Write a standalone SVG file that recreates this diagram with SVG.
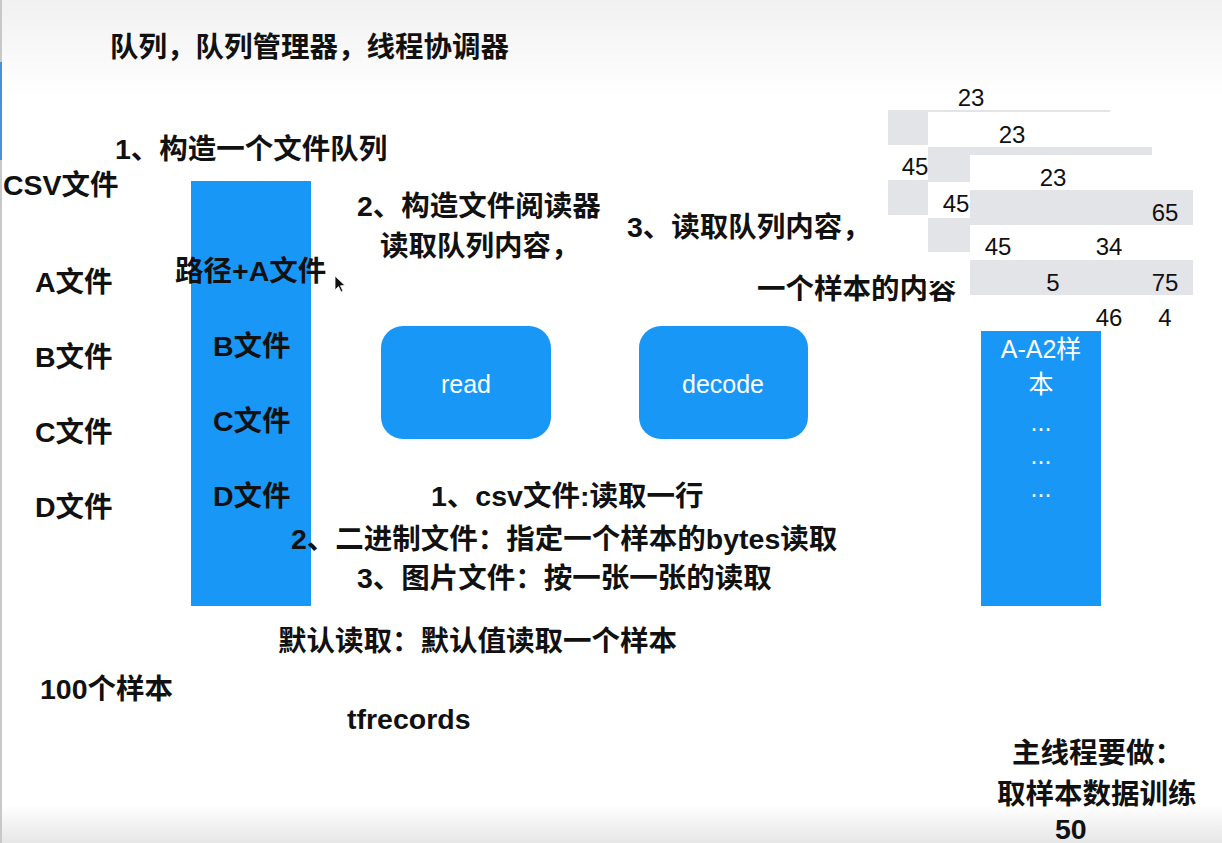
<svg xmlns="http://www.w3.org/2000/svg" width="1222" height="843" viewBox="0 0 1222 843">
  <defs>
    <linearGradient id="topShade" x1="0" y1="0" x2="0" y2="1">
      <stop offset="0" stop-color="#f1f1f1"/>
      <stop offset="1" stop-color="#ffffff"/>
    </linearGradient>
    <linearGradient id="bottomShade" x1="0" y1="0" x2="0" y2="1">
      <stop offset="0" stop-color="#ffffff"/>
      <stop offset="1" stop-color="#e6e6e6"/>
    </linearGradient>
    <style>
      .t { font-family: "Liberation Sans", "Noto Sans CJK SC", sans-serif; font-weight: bold; font-size: 28.5px; fill: #111; }
      .num { font-family: "Liberation Sans", "Noto Sans CJK SC", sans-serif; font-size: 24px; fill: #111; text-anchor: middle; }
      .w { font-family: "Liberation Sans", "Noto Sans CJK SC", sans-serif; font-size: 25px; fill: #fff; text-anchor: middle; }
      .blue { fill: #1897f7; }
      .gray { fill: #e3e4e7; }
    </style>
  </defs>

  <!-- page background -->
  <rect x="0" y="0" width="1222" height="843" fill="#ffffff"/>
  <rect x="0" y="0" width="1222" height="100" fill="url(#topShade)"/>
  <rect x="0" y="805" width="1222" height="38" fill="url(#bottomShade)"/>
  <rect x="0" y="0" width="2" height="843" fill="#c8c8c8"/>
  <rect x="0" y="62" width="2" height="98" fill="#4a8fd8"/>

  <!-- title -->
  <text class="t" x="110" y="57">队列，队列管理器，线程协调器</text>

  <!-- step 1: file queue -->
  <g id="step1">
    <text class="t" x="115" y="159">1、构造一个文件队列</text>
  </g>

  <g id="source-files">
    <text class="t" x="3" y="195">CSV文件</text>
    <text class="t" x="35" y="292">A文件</text>
    <text class="t" x="35" y="367">B文件</text>
    <text class="t" x="35" y="442">C文件</text>
    <text class="t" x="35" y="517">D文件</text>
    <text class="t" x="40" y="699">100个样本</text>
  </g>

  <g id="file-queue">
    <rect class="blue" x="191" y="181" width="120" height="425"/>
    <text class="t" x="175" y="281">路径+A文件</text>
    <text class="t" x="213" y="356">B文件</text>
    <text class="t" x="213" y="431">C文件</text>
    <text class="t" x="213" y="506">D文件</text>
  </g>

  <!-- pointer -->
  <path d="M335,276 L335,290 L338.5,286.5 L341,292 L343,291 L340.5,285.8 L345,285.5 Z" fill="#111" stroke="#fff" stroke-width="0.8"/>

  <!-- step 2: reader -->
  <g id="step2">
    <text class="t" x="357" y="216">2、构造文件阅读器</text>
    <text class="t" x="380" y="256">读取队列内容，</text>
  </g>

  <g id="read">
    <rect class="blue" x="381" y="326" width="170" height="113" rx="22"/>
    <text class="w" x="466" y="393">read</text>
  </g>

  <g id="decode">
    <rect class="blue" x="639" y="326" width="169" height="113" rx="22"/>
    <text class="w" x="723" y="393">decode</text>
  </g>

  <g id="reader-notes">
    <text class="t" x="431" y="506">1、csv文件:读取一行</text>
    <text class="t" x="291" y="549">2、二进制文件：指定一个样本的bytes读取</text>
    <text class="t" x="357" y="588">3、图片文件：按一张一张的读取</text>
    <text class="t" x="278" y="651">默认读取：默认值读取一个样本</text>
    <text class="t" x="347" y="729">tfrecords</text>
  </g>

  <!-- step 3: queue content -->
  <g id="step3">
    <text class="t" x="627" y="237">3、读取队列内容，</text>
    <text class="t" x="757" y="299">一个样本的内容</text>
    <rect x="925" y="257" width="44" height="24" fill="#ffffff"/>
  </g>

  <!-- staggered sample rows -->
  <g id="sample-rows">
    <rect class="gray" x="888" y="110" width="222" height="2"/>
    <rect class="gray" x="888" y="110" width="40" height="35"/>
    <rect class="gray" x="928" y="147" width="224" height="8"/>
    <rect class="gray" x="928" y="147" width="42" height="35"/>
    <rect class="gray" x="888" y="180" width="40" height="35"/>
    <rect class="gray" x="970" y="190" width="223" height="35"/>
    <rect class="gray" x="928" y="218" width="42" height="34"/>
    <rect class="gray" x="970" y="260" width="223" height="35"/>
    <text class="num" x="971" y="106">23</text>
    <text class="num" x="1012" y="143">23</text>
    <text class="num" x="915" y="175">45</text>
    <text class="num" x="1053" y="186">23</text>
    <text class="num" x="956" y="212">45</text>
    <text class="num" x="1165" y="221">65</text>
    <text class="num" x="998" y="255">45</text>
    <text class="num" x="1109" y="255">34</text>
    <text class="num" x="1053" y="291">5</text>
    <text class="num" x="1165" y="291">75</text>
    <text class="num" x="1109" y="326">46</text>
    <text class="num" x="1165" y="326">4</text>
  </g>

  <g id="sample-queue">
    <rect class="blue" x="981" y="331" width="120" height="275"/>
    <text class="w" x="1041" y="358">A-A2样</text>
    <text class="w" x="1041" y="393">本</text>
    <text class="w" x="1041" y="431">...</text>
    <text class="w" x="1041" y="464">...</text>
    <text class="w" x="1041" y="497">...</text>
  </g>

  <!-- main thread -->
  <g id="main-thread">
    <text class="t" x="1012" y="763">主线程要做：</text>
    <text class="t" x="997" y="804">取样本数据训练</text>
    <text class="t" x="1055" y="839">50</text>
  </g>
</svg>
